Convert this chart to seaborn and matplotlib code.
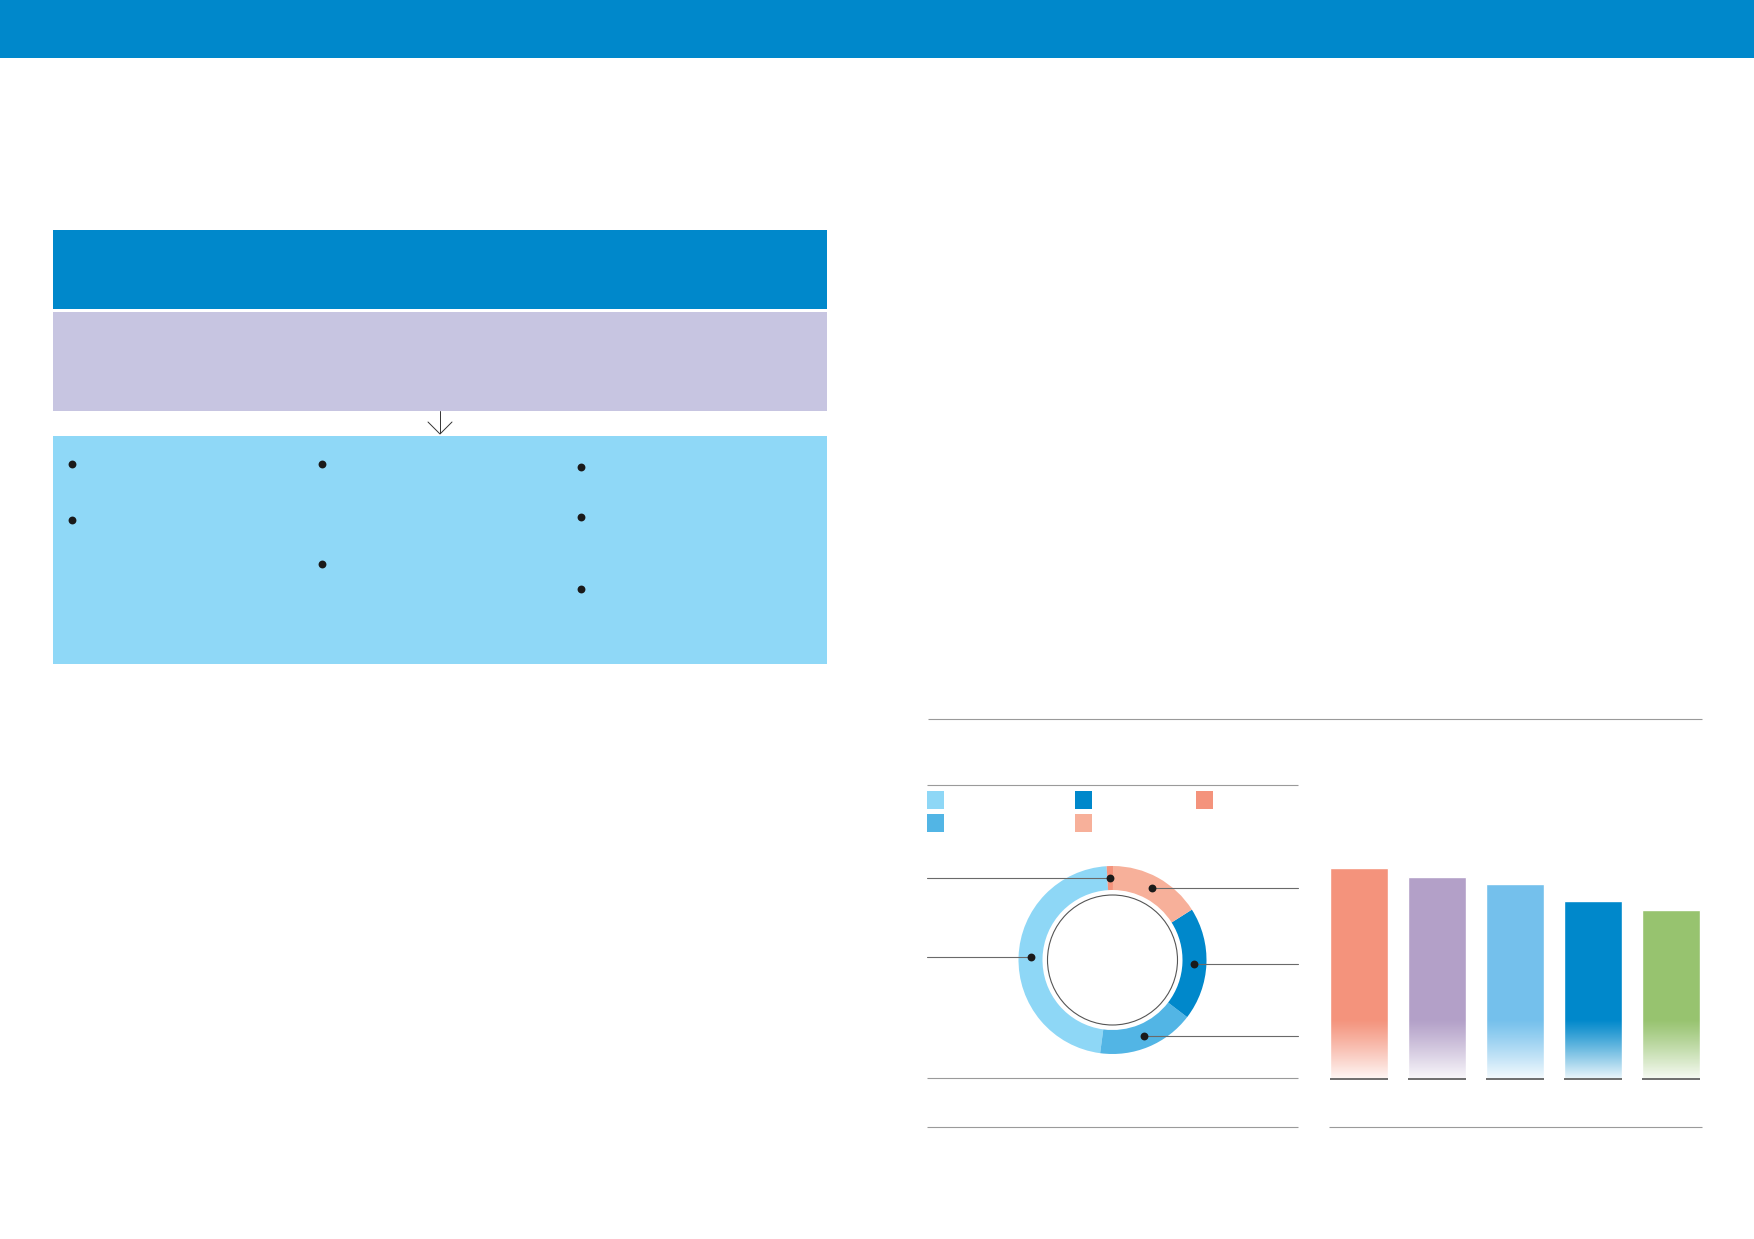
import numpy as np
import matplotlib
matplotlib.use("Agg")
import matplotlib.pyplot as plt
from matplotlib.patches import Rectangle, Circle
import seaborn as sns

# donut shares (%), in legend order
donut_labels = ["Segment A", "Segment B", "Segment C", "Segment D", "Segment E"]
donut_values = [46.9, 16.7, 19.4, 15.9, 1.1]
donut_colors = ["#8ED7F6", "#52B5E5", "#0088CB", "#F7B09A", "#F4937C"]

# bar chart values
bar_labels = ["Bar 1", "Bar 2", "Bar 3", "Bar 4", "Bar 5"]
bar_values = [211, 202, 195, 178, 169]
bar_colors = ["#F4937C", "#B3A0C8", "#74C0EC", "#0088CB", "#97C36F"]

BLUE = "#0088CB"
LAVENDER = "#C7C5E1"
LIGHTBLUE = "#8FD8F7"
RULE = "#9A9A9A"

sns.set_style("white")
plt.rcParams["font.family"] = ["DejaVu Sans"]

W, H = 1754, 1239
fig = plt.figure(figsize=(W / 100, H / 100), dpi=100, facecolor="white")

bg = fig.add_axes([0, 0, 1, 1])
bg.set_xlim(0, W)
bg.set_ylim(H, 0)
bg.axis("off")


def px_axes(x0, y0, x1, y1):
    # axes placed in pixel coords (y from top)
    return fig.add_axes([x0 / W, 1 - y1 / H, (x1 - x0) / W, (y1 - y0) / H])


def box(x0, y0, x1, y1, color):
    bg.add_patch(Rectangle((x0, y0), x1 - x0, y1 - y0, color=color, lw=0))


def rule(x0, x1, y, color=RULE, lw=0.8):
    bg.plot([x0, x1], [y, y], color=color, lw=lw, solid_capstyle="butt")


# top banner
box(0, 0, W, 58, BLUE)

# left flow diagram
box(53, 230, 827, 309, BLUE)
box(53, 312, 827, 411, LAVENDER)
box(53, 436, 827, 664, LIGHTBLUE)
bg.plot([440, 440], [411, 433], color="#333333", lw=0.7)
bg.plot([428, 440, 452], [422, 434, 422], color="#333333", lw=0.7)

bullet_x = [71.5, 71.5, 322, 322, 580.5, 580.5, 580.5]
bullet_y = [464, 520, 464, 564, 467, 517, 589]
bg.scatter(bullet_x, bullet_y, s=32, color="#1a1a1a", lw=0, zorder=3)

# right side rules
rule(928, 1702, 719)
rule(927, 1298, 785)
rule(927, 1298, 1078)
rule(927, 1298, 1127)
rule(1329, 1702, 1127)

# donut legend swatches (column-major order)
sw_cols = [927, 1075, 1196]
sw_rows = [791, 814]
for i, c in enumerate(donut_colors):
    col, row = divmod(i, 2)
    box(sw_cols[col], sw_rows[row], sw_cols[col] + 17, sw_rows[row] + 18, c)

# donut
cx, cy, R = 1112.5, 960, 94
ax = px_axes(cx - R, cy - R, cx + R, cy + R)
wedges, _ = ax.pie(donut_values, colors=donut_colors, startangle=93.6,
                   counterclock=True, radius=1,
                   wedgeprops=dict(width=24 / R, linewidth=0))
ax.add_patch(Circle((0, 0), 65 / R, fill=False, ec="#555555", lw=0.8))
ax.set_xlim(-1, 1)
ax.set_ylim(-1, 1)
ax.set_aspect("equal")
ax.axis("off")

left_end = -(cx - 927) / R
right_end = (1298 - cx) / R
for w in wedges:
    th = np.deg2rad((w.theta1 + w.theta2) / 2)
    r = 82 / R
    x, y = r * np.cos(th), r * np.sin(th)
    end = left_end if x < 0 else right_end
    ax.plot([x, end], [y, y], color="#6a6a6a", lw=0.8, clip_on=False, zorder=4)
    ax.scatter([x], [y], s=32, color="#1a1a1a", lw=0, clip_on=False, zorder=5)

# bar chart
ax2 = px_axes(1320, 849, 1710, 1079)
sns.barplot(x=bar_labels, y=bar_values, hue=bar_labels, palette=bar_colors,
            width=58 / 78, saturation=1, legend=False, ax=ax2)

fade_h = 60
alpha = np.linspace(0, 1, 200) ** 1.1 * 0.93
grad = np.ones((200, 1, 4))
grad[:, 0, 3] = alpha
for p in ax2.patches:
    x0, w = p.get_x(), p.get_width()
    ax2.imshow(grad, extent=[x0, x0 + w, 0, fade_h], origin="upper",
               aspect="auto", zorder=3, interpolation="bilinear")
    ax2.hlines(0, x0, x0 + w, color="#555555", lw=1.2, clip_on=False, zorder=4)

ax2.set_xlim(-0.5, 4.5)
ax2.set_ylim(0, 230)
ax2.axis("off")

fig.savefig("out.png", dpi=100, facecolor="white")
